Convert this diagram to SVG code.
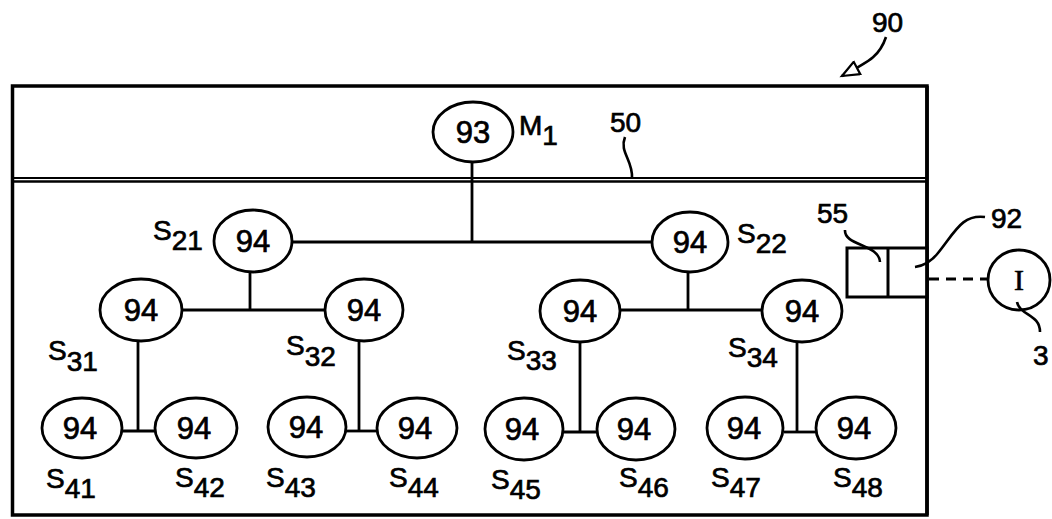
<svg xmlns="http://www.w3.org/2000/svg" width="1052" height="519" viewBox="0 0 1052 519">
<style>
  .n ellipse { fill: #fff; stroke: #000; stroke-width: 2.8; }
  .n text, .lbl { font-family: "Liberation Sans", Arial, sans-serif; fill: #000; stroke: #000; stroke-width: 0.7; }
  .n text { font-size: 31px; text-anchor: middle; }
  .lbl { font-size: 28px; }
  .c line, .c path { stroke: #000; stroke-width: 2.8; fill: none; }
  .lead { stroke: #000; stroke-width: 2.6; fill: none; }
</style>
<defs>
  <marker id="open" markerWidth="22" markerHeight="16" refX="19" refY="8" orient="auto" markerUnits="userSpaceOnUse">
    <path d="M2,1 L19,8 L2,15 Z" fill="#fff" stroke="#000" stroke-width="2.2"/>
  </marker>
</defs>
<rect width="1052" height="519" fill="#fff"/>

<!-- outer frame -->
<g id="frame">
  <rect x="12.5" y="86" width="914.5" height="429" fill="none" stroke="#000" stroke-width="3.5"/>
  <line x1="12" y1="178" x2="927" y2="178" stroke="#000" stroke-width="2"/>
  <line x1="12" y1="181.5" x2="927" y2="181.5" stroke="#000" stroke-width="2.5"/>
</g>

<!-- connectors -->
<g class="c" id="connectors">
  <line x1="472" y1="162" x2="472" y2="242"/>
  <line x1="292" y1="242" x2="652" y2="242"/>
  <line x1="250" y1="271" x2="250" y2="310"/>
  <line x1="182" y1="310" x2="326" y2="310"/>
  <line x1="688" y1="272" x2="688" y2="310"/>
  <line x1="620" y1="310" x2="762" y2="310"/>
  <line x1="138" y1="341" x2="138" y2="431"/>
  <line x1="122" y1="431" x2="155" y2="431"/>
  <line x1="359" y1="341" x2="359" y2="431"/>
  <line x1="346" y1="431" x2="377" y2="431"/>
  <line x1="580" y1="342" x2="580" y2="432"/>
  <line x1="562" y1="432" x2="598" y2="432"/>
  <line x1="797" y1="341" x2="797" y2="432"/>
  <line x1="784" y1="432" x2="816" y2="432"/>
  <line x1="929" y1="279" x2="988" y2="279" stroke-dasharray="10,7"/>
</g>

<!-- nodes -->
<g class="n" id="n93"><ellipse cx="473" cy="132" rx="40" ry="30"/><text x="473" y="143">93</text></g>
<g class="n" id="s21"><ellipse cx="253" cy="241" rx="39" ry="31"/><text x="253" y="252">94</text></g>
<g class="n" id="s22"><ellipse cx="690" cy="242" rx="38" ry="30"/><text x="690" y="253">94</text></g>
<g class="n" id="s31"><ellipse cx="141" cy="310" rx="41" ry="31"/><text x="141" y="321">94</text></g>
<g class="n" id="s32"><ellipse cx="364" cy="310" rx="39" ry="31"/><text x="364" y="321">94</text></g>
<g class="n" id="s33"><ellipse cx="580" cy="311" rx="40" ry="31"/><text x="580" y="322">94</text></g>
<g class="n" id="s34"><ellipse cx="802" cy="311" rx="40" ry="31"/><text x="802" y="322">94</text></g>
<g class="n" id="s41"><ellipse cx="82" cy="428" rx="40" ry="30"/><text x="80" y="439">94</text></g>
<g class="n" id="s42"><ellipse cx="196" cy="428" rx="41" ry="30"/><text x="194" y="439">94</text></g>
<g class="n" id="s43"><ellipse cx="307" cy="427" rx="39" ry="30"/><text x="306" y="438">94</text></g>
<g class="n" id="s44"><ellipse cx="417" cy="428" rx="40" ry="30"/><text x="415" y="439">94</text></g>
<g class="n" id="s45"><ellipse cx="524" cy="429" rx="39" ry="31"/><text x="522" y="440">94</text></g>
<g class="n" id="s46"><ellipse cx="636" cy="429" rx="39" ry="31"/><text x="634" y="440">94</text></g>
<g class="n" id="s47"><ellipse cx="745" cy="428" rx="38" ry="31"/><text x="744" y="439">94</text></g>
<g class="n" id="s48"><ellipse cx="856" cy="428" rx="40" ry="31"/><text x="854" y="439">94</text></g>

<!-- interface 55 / 92 -->
<g id="box55">
  <rect x="847" y="248" width="80" height="49" fill="#fff" stroke="#000" stroke-width="3"/>
  <line x1="888" y1="248" x2="888" y2="297" stroke="#000" stroke-width="3"/>
  <line x1="927" y1="86" x2="927" y2="515" stroke="#000" stroke-width="3.5"/>
</g>
<g id="nodeI">
  <ellipse cx="1019" cy="280" rx="31" ry="30" fill="#fff" stroke="#000" stroke-width="2.8"/>
  <text x="1019" y="290" font-family="Liberation Serif, Times New Roman, serif" font-size="30" text-anchor="middle" stroke="#000" stroke-width="0.6">I</text>
</g>

<!-- leaders -->
<g id="leaders">
  <path class="lead" d="M625,137 C619,152 633,160 632,178"/>
  <path class="lead" d="M845,230 C844,246 879,244 880,262"/>
  <path class="lead" d="M985,217 C962,214 955,232 938,253 C931,262 922,266 915,267"/>
  <path class="lead" d="M1017,302 C1020,316 1040,314 1040,332"/>
  <path class="lead" d="M886,37 C880,55 872,60 842,76" stroke-width="3.2" marker-end="url(#open)"/>
</g>

<!-- labels -->
<g id="labels">
  <text class="lbl" x="872" y="32" font-size="30">90</text>
  <text class="lbl" x="519" y="135" font-size="31">M<tspan dy="10" font-size="28">1</tspan></text>
  <text class="lbl" x="610" y="132" font-size="27">50</text>
  <text class="lbl" x="817" y="223" font-size="26">55</text>
  <text class="lbl" x="991" y="228" font-size="28">92</text>
  <text class="lbl" x="1033" y="365" font-size="28">3</text>
  <text class="lbl" x="153" y="240">S<tspan dy="10">21</tspan></text>
  <text class="lbl" x="737" y="243">S<tspan dy="10">22</tspan></text>
  <text class="lbl" x="48" y="360">S<tspan dy="11">31</tspan></text>
  <text class="lbl" x="286" y="355">S<tspan dy="11">32</tspan></text>
  <text class="lbl" x="507" y="360">S<tspan dy="10">33</tspan></text>
  <text class="lbl" x="728" y="357">S<tspan dy="10">34</tspan></text>
  <text class="lbl" x="46" y="488">S<tspan dy="10">41</tspan></text>
  <text class="lbl" x="175" y="487">S<tspan dy="10">42</tspan></text>
  <text class="lbl" x="266" y="487">S<tspan dy="10">43</tspan></text>
  <text class="lbl" x="389" y="487">S<tspan dy="10">44</tspan></text>
  <text class="lbl" x="491" y="489">S<tspan dy="10">45</tspan></text>
  <text class="lbl" x="619" y="487">S<tspan dy="10">46</tspan></text>
  <text class="lbl" x="711" y="487">S<tspan dy="10">47</tspan></text>
  <text class="lbl" x="833" y="487">S<tspan dy="10">48</tspan></text>
</g>
</svg>
